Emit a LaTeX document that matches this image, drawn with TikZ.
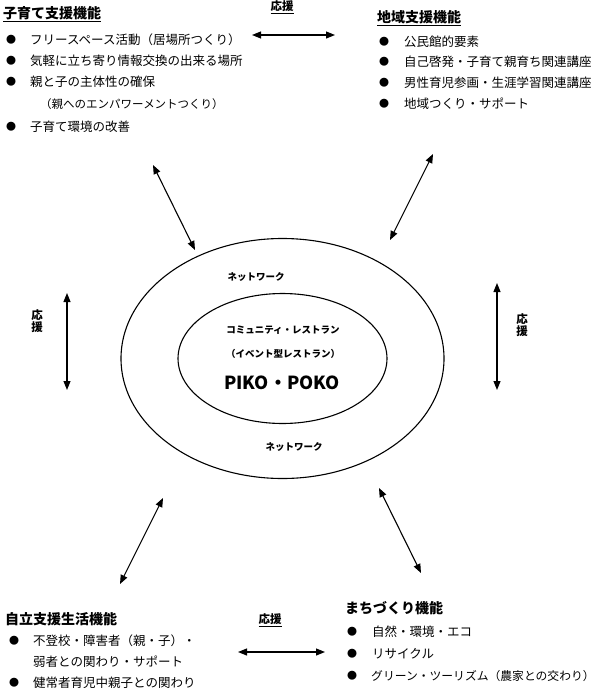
\documentclass[tikz,border=0pt]{standalone}
\usepackage{fontspec}
\setmainfont{Noto Sans CJK JP}
\usetikzlibrary{arrows.meta}

\tikzset{
  midashi/.style={anchor=west,inner sep=0pt,font=\fontsize{14}{16}\selectfont\bfseries},
  koumoku/.style={anchor=west,inner sep=0pt,font=\fontsize{12.5}{14}\selectfont},
  kuro/.style={anchor=west,inner sep=0pt,font=\fontsize{10}{11}\selectfont},
  ouen/.style={inner sep=0pt,font=\fontsize{11.5}{12.5}\selectfont\bfseries},
  chuou/.style={inner sep=0pt,font=\fontsize{9.5}{11}\selectfont\bfseries},
  yajirushi/.style={<->,line width=1.1pt},
}

\begin{document}
\begin{tikzpicture}[x=1pt,y=-1pt,>={Triangle[length=9pt,width=7pt]}]
  \useasboundingbox (0,0) rectangle (600,694);

  % 子育て支援機能
  \node[midashi] (kosodate) at (3,14) {\underline{子育て支援機能}};
  \node[kuro] (k1) at (6,40) {●};
  \node[koumoku] (kt1) at (30,40) {フリースペース活動（居場所つくり）};
  \node[kuro] (k2) at (6,61) {●};
  \node[koumoku] (kt2) at (30,61) {気軽に立ち寄り情報交換の出来る場所};
  \node[kuro] (k3) at (6,82) {●};
  \node[koumoku] (kt3) at (30,82) {親と子の主体性の確保};
  \node[koumoku,font=\fontsize{11.5}{13}\selectfont] (kt3b) at (40,104) {（親へのエンパワーメントつくり）};
  \node[kuro] (k4) at (6,127) {●};
  \node[koumoku] (kt4) at (30,127) {子育て環境の改善};

  % 地域支援機能
  \node[midashi] (chiiki) at (377,18) {\underline{地域支援機能}};
  \node[kuro] (c1) at (379,42) {●};
  \node[koumoku] (ct1) at (404,42) {公民館的要素};
  \node[kuro] (c2) at (379,62) {●};
  \node[koumoku] (ct2) at (404,62) {自己啓発・子育て親育ち関連講座};
  \node[kuro] (c3) at (379,83) {●};
  \node[koumoku] (ct3) at (404,83) {男性育児参画・生涯学習関連講座};
  \node[kuro] (c4) at (379,104) {●};
  \node[koumoku] (ct4) at (404,104) {地域つくり・サポート};

  % 自立支援生活機能
  \node[midashi] (jiritsu) at (5,619) {自立支援生活機能};
  \node[kuro] (j1) at (9,641) {●};
  \node[koumoku] (jt1) at (33,641) {不登校・障害者（親・子）・};
  \node[koumoku] (jt1b) at (33,662) {弱者との関わり・サポート};
  \node[kuro] (j2) at (9,683) {●};
  \node[koumoku] (jt2) at (33,683) {健常者育児中親子との関わり};

  % まちづくり機能
  \node[midashi] (machi) at (345,608) {まちづくり機能};
  \node[kuro] (m1) at (347,632) {●};
  \node[koumoku] (mt1) at (372,632) {自然・環境・エコ};
  \node[kuro] (m2) at (347,654) {●};
  \node[koumoku] (mt2) at (372,654) {リサイクル};
  \node[kuro] (m3) at (347,676) {●};
  \node[koumoku,font=\fontsize{11.8}{14}\selectfont] (mt3) at (371,676) {グリーン・ツーリズム（農家との交わり）};

  % 中央
  \draw[line width=1.1pt] (282.5,358.5) ellipse (161.5 and 120);
  \draw[line width=1.1pt] (282.5,358.5) ellipse (104.5 and 65);
  \node[chuou] (net1) at (256,277) {ネットワーク};
  \node[chuou] (net2) at (294,447) {ネットワーク};
  \node[chuou] (resto) at (283,330) {コミュニティ・レストラン};
  \node[chuou] (event) at (283,354) {（イベント型レストラン）};
  \node[inner sep=0pt,font=\fontsize{18}{20}\selectfont\bfseries] (piko) at (282,383) {PIKO・POKO};

  % 応援
  \node[ouen] (o1) at (282,7) {\underline{応援}};
  \node[ouen] (o2) at (270,620) {\underline{応援}};
  \node[ouen,align=center] (o3) at (37,321) {応\\援};
  \node[ouen,align=center] (o4) at (522,325) {応\\援};

  \coordinate (a1) at (252,35);  \coordinate (b1) at (335,35);
  \coordinate (a2) at (238,652); \coordinate (b2) at (325,652);
  \coordinate (a3) at (67,293);  \coordinate (b3) at (67,390);
  \coordinate (a4) at (497,283); \coordinate (b4) at (497,390);
  \coordinate (a5) at (153,165); \coordinate (b5) at (195,250);
  \coordinate (a6) at (433,154); \coordinate (b6) at (390,240);
  \coordinate (a7) at (163,498); \coordinate (b7) at (120,584);
  \coordinate (a8) at (379,488); \coordinate (b8) at (421,573);
  \foreach \i in {1,...,8}
    \draw[yajirushi] (a\i) -- (b\i);
\end{tikzpicture}
\end{document}
